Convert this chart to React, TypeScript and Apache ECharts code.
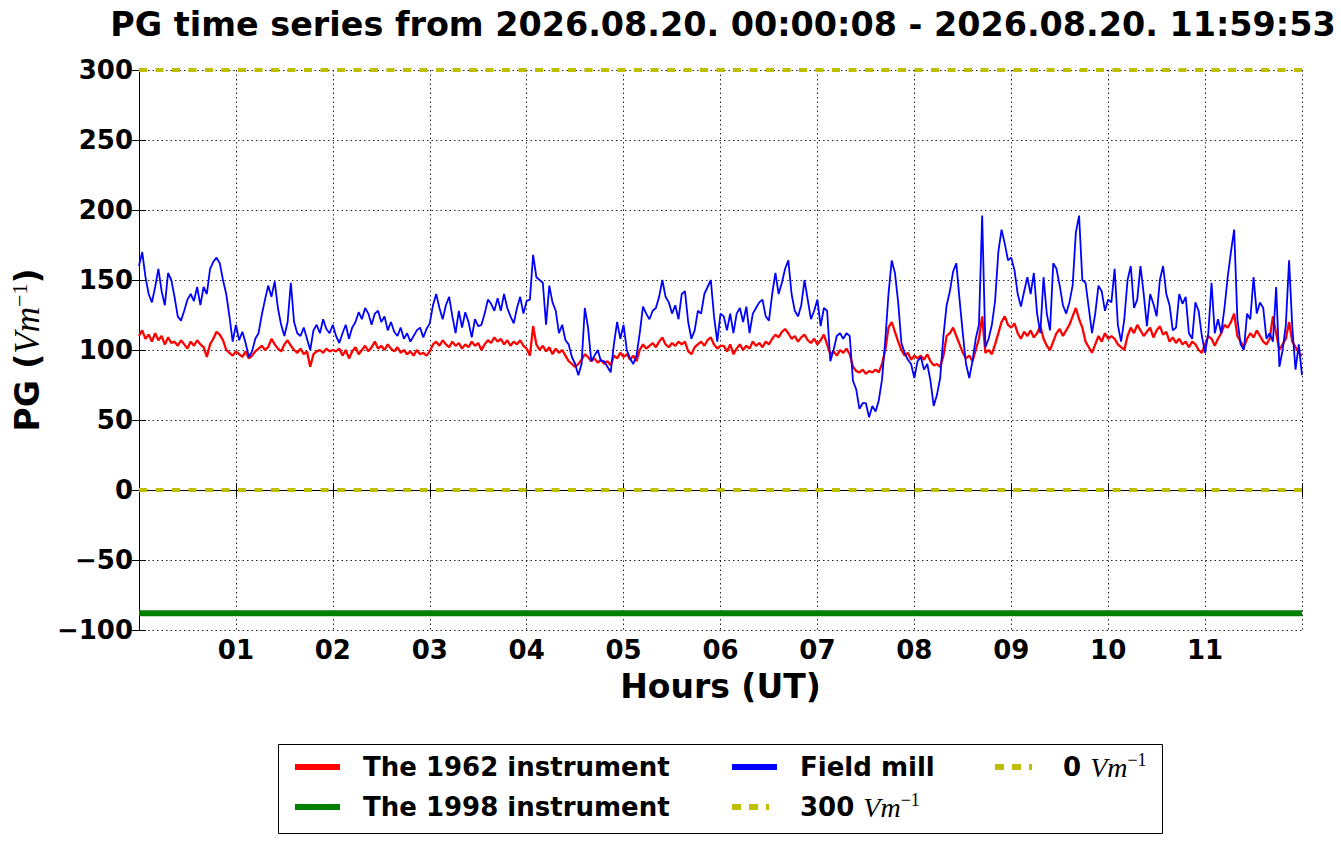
import React, { useEffect, useRef } from "react";
import * as echarts from "echarts";

const TITLE = "PG time series from 2026.08.20. 00:00:08 - 2026.08.20. 11:59:53";
const SAMPLE_MINUTES = 2;
const X_MAX_MINUTES = 720;
const hourTickLabels = ["01", "02", "03", "04", "05", "06", "07", "08", "09", "10", "11"];
const yTicks = { min: -100, max: 300, step: 50 };

// The 1962 instrument (red), every 2 minutes from 00:00
const instrument1962 = [
  110, 114, 108, 111, 106, 112, 107, 110, 104, 109, 105, 106, 103, 107, 104, 101, 106, 103, 107, 104,
  102, 95, 104, 108, 113, 111, 107, 100, 98, 96, 99, 97, 95, 99, 94, 96, 99, 101, 103, 100,
  102, 108, 104, 101, 99, 104, 107, 103, 100, 98, 101, 97, 99, 88, 97, 99, 100, 98, 101, 99,
  100,
  99, 101, 96, 100, 94, 99, 102, 97, 100, 103, 99, 102, 106, 101, 103, 100, 104, 101, 99, 102,
  98, 100, 97, 99, 96, 100, 97, 98, 96, 99, 104, 106, 103, 107, 104, 102, 106, 103, 105, 101,
  104, 102, 106, 103, 105, 100, 104, 107, 105, 109, 106, 108, 104, 107, 103, 106, 104, 107, 103, 101,
  96, 117, 104, 100, 103, 99, 102, 97, 101, 98, 100, 96, 92, 90, 88, 90, 93, 97, 95, 92,
  94, 91, 93, 90, 92, 89, 96, 94, 98, 95, 97, 93, 96, 92, 100, 104, 101, 103, 105, 102,
  106, 109, 104, 102, 105, 103, 106, 104, 106, 99, 97, 102, 104, 106, 103, 107, 109, 104, 101, 103,
  103, 99, 104, 97, 101, 104, 100, 103, 101, 106, 103, 105, 102, 106, 104, 108, 111, 109, 113, 115,
  112, 108, 110, 106, 109, 111, 107, 105, 108, 104, 107, 111, 104, 97, 99, 96, 100, 98, 101, 97,
  88, 85, 84, 86, 83, 85, 84, 86, 84, 90, 100, 116, 120, 113, 106, 100, 96, 98, 93, 96,
  94,
  96, 93, 97, 92, 89, 90, 88, 96, 110, 112, 116, 110, 104, 98, 94, 96, 92, 100, 108, 124,
  98, 100, 97, 104, 112, 120, 124, 118, 116, 119, 112, 108, 113, 110, 114, 109, 112, 117, 108, 103,
  100, 106, 112, 115, 110, 114, 118, 124, 130, 122, 116, 106, 102, 98, 104, 110, 106, 112, 108, 110,
  108, 104, 102, 100, 110, 116, 112, 118, 114, 110, 113, 116, 109, 114, 117, 111, 113, 106, 109, 105,
  108, 104, 106, 102, 106, 104, 100, 98, 104, 110, 108, 103, 108, 112, 118, 116, 120, 126, 110, 106,
  102, 108, 112, 109, 114, 110, 106, 104, 108, 124, 112, 100, 104, 108, 120, 106, 102, 98, 96,
];

// Field mill (blue), every 2 minutes from 00:00
const fieldMill = [
  160, 170, 152, 140, 134, 145, 158, 142, 132, 155, 150, 138, 124, 121, 128, 136, 140, 135, 145, 132,
  145, 140, 158, 163, 166, 162, 150, 140, 124, 106, 118, 107, 113, 105, 95, 99, 108, 112, 125, 136,
  146, 138, 149, 130, 118, 110, 120, 148, 120, 112, 110, 116, 108, 100, 114, 118, 112, 122, 115, 112,
  118,
  110, 105, 112, 118, 108, 116, 120, 127, 122, 130, 126, 118, 126, 128, 120, 124, 114, 120, 113, 110,
  116, 108, 112, 106, 110, 114, 116, 109, 115, 119, 132, 140, 130, 122, 132, 138, 124, 112, 128, 116,
  127, 120, 109, 122, 117, 118, 126, 136, 133, 128, 137, 128, 140, 130, 124, 119, 130, 138, 126, 135,
  136, 168, 152, 150, 148, 118, 146, 134, 128, 112, 118, 107, 104, 95, 90, 82, 90, 130, 116, 92,
  96, 100, 92, 92, 88, 84, 104, 120, 108, 118, 100, 94, 90, 96, 112, 131, 126, 122, 128, 130,
  138, 150, 138, 134, 126, 132, 122, 140, 142, 120, 108, 114, 128, 126, 140, 145, 150, 124, 106, 126,
  124, 114, 126, 112, 126, 130, 120, 131, 112, 126, 130, 134, 136, 124, 121, 140, 155, 140, 148, 158,
  164, 140, 128, 124, 132, 150, 136, 122, 128, 136, 117, 130, 128, 92, 100, 110, 112, 108, 112, 110,
  78, 72, 58, 62, 62, 52, 60, 56, 64, 79, 107, 140, 164, 155, 134, 105, 98, 93, 90, 80,
  92,
  95, 86, 90, 78, 60, 68, 80, 110, 132, 142, 156, 162, 136, 112, 90, 80, 92, 108, 118, 196,
  102, 108, 118, 135, 170, 186, 176, 164, 166, 157, 140, 131, 142, 152, 140, 155, 126, 112, 152, 126,
  114, 162, 158, 146, 132, 126, 134, 146, 184, 196, 150, 148, 130, 112, 126, 146, 142, 128, 136, 134,
  158, 118, 106, 122, 150, 160, 130, 136, 160, 140, 117, 140, 133, 124, 150, 160, 140, 132, 114, 116,
  140, 133, 138, 112, 108, 134, 128, 110, 98, 112, 148, 112, 122, 112, 130, 152, 170, 186, 122, 104,
  100, 126, 122, 152, 126, 134, 130, 108, 112, 106, 145, 88, 100, 118, 164, 116, 86, 104, 82,
];

// Constant levels
const instrument1998Level = -88;
const referenceLow = 0;
const referenceHigh = 300;

const NAME_1962 = "The 1962 instrument";
const NAME_1998 = "The 1998 instrument";
const NAME_MILL = "Field mill";
const NAME_300 = "300";
const NAME_0 = "0";

const FONT = "DejaVu Sans";
const MATH_FONT = "Liberation Serif";
const YELLOW = "#bfbf00";
const DOTS_ICON = "path://M0 0H9V7H0Z M17 0H26V7H17Z M34 0H37V7H34Z M44.95 3.45H45V3.5H44.95Z";

const toPairs = (arr: number[]) => arr.map((v, i) => [i * SAMPLE_MINUTES, v]);
const flat = (v: number) => [[0, v], [X_MAX_MINUTES, v]];

const richMath = (size: number) => ({
  b: { fontFamily: FONT, fontWeight: "bold", fontSize: size, lineHeight: size + 6, color: "#000" },
  i: { fontFamily: MATH_FONT, fontStyle: "italic", fontWeight: "normal", fontSize: size + 2, lineHeight: size + 6, color: "#000" },
  s: { fontFamily: MATH_FONT, fontWeight: "normal", fontSize: Math.round(size * 0.68), lineHeight: Math.round(size * 0.68), verticalAlign: "top", color: "#000" },
});

export default function App() {
  const ref = useRef<HTMLDivElement>(null);
  useEffect(() => {
    if (!ref.current) return;
    const chart = echarts.init(ref.current, null, { renderer: "svg" });
    const legendText = {
      fontFamily: FONT,
      fontWeight: "bold" as const,
      fontSize: 26,
      color: "#000",
      lineHeight: 32,
      padding: [0, 0, 0, 18],
      rich: richMath(26),
    };
    const legendFormatter = (name: string) => {
      if (name === NAME_300 || name === NAME_0) return `{b|${name} }{i|Vm}{s|\u22121}`;
      return `{b|${name}}`;
    };
    const legendCommon = {
      orient: "vertical" as const,
      top: 751,
      itemWidth: 45,
      itemHeight: 6,
      itemGap: 8,
      symbolKeepAspect: false,
      selectedMode: false,
      formatter: legendFormatter,
      textStyle: legendText,
      padding: 0,
    };
    const axisLabelStyle = { fontFamily: FONT, fontWeight: "bold" as const, fontSize: 26, color: "#000" };
    const gridLine = { show: true, lineStyle: { color: "#222", width: 1, type: [1.5, 3] as number[] } };
    const frame = { show: true, lineStyle: { color: "#000", width: 1 } };
    const tick = { show: true, inside: true, length: 7, lineStyle: { color: "#000", width: 1 } };

    chart.setOption({
      animation: false,
      backgroundColor: "#fff",
      title: {
        text: TITLE,
        left: 718,
        top: 3,
        textAlign: "center",
        textStyle: { fontFamily: FONT, fontWeight: "bold", fontSize: 33.4, color: "#000" },
      },
      grid: { left: 139, right: 39, top: 70, bottom: 214, containLabel: false },
      xAxis: [
        {
          type: "value",
          min: 0,
          max: X_MAX_MINUTES,
          interval: 60,
          position: "bottom",
          axisLine: frame,
          axisTick: tick,
          splitLine: gridLine,
          axisLabel: {
            ...axisLabelStyle,
            margin: 7,
            formatter: (v: number) => hourTickLabels[v / 60 - 1] ?? "",
          },
          name: "Hours (UT)",
          nameLocation: "middle",
          nameGap: 40,
          nameTextStyle: { fontFamily: FONT, fontWeight: "bold", fontSize: 33, color: "#000" },
        },
        {
          type: "value",
          min: 0,
          max: X_MAX_MINUTES,
          interval: 60,
          position: "top",
          axisLine: frame,
          axisTick: tick,
          splitLine: { show: false },
          axisLabel: { show: false },
        },
      ],
      yAxis: [
        {
          type: "value",
          min: yTicks.min,
          max: yTicks.max,
          interval: yTicks.step,
          position: "left",
          axisLine: frame,
          axisTick: tick,
          splitLine: gridLine,
          axisLabel: {
            ...axisLabelStyle,
            margin: 6,
            formatter: (v: number) => (v < 0 ? "\u2212" + Math.abs(v) : String(v)),
          },
          name: "{b|PG (}{i|Vm}{s|\u22121}{b|)}",
          nameLocation: "middle",
          nameRotate: 90,
          nameGap: 92,
          nameTextStyle: { rich: richMath(33) },
        },
        {
          type: "value",
          min: yTicks.min,
          max: yTicks.max,
          interval: yTicks.step,
          position: "right",
          axisLine: frame,
          axisTick: tick,
          splitLine: { show: false },
          axisLabel: { show: false },
        },
      ],
      legend: [
        { ...legendCommon, left: 295, data: [{ name: NAME_1962, icon: "rect" }, { name: NAME_1998, icon: "rect" }] },
        { ...legendCommon, left: 732, data: [{ name: NAME_MILL, icon: "rect" }, { name: NAME_300, icon: DOTS_ICON }] },
        { ...legendCommon, left: 995, data: [{ name: NAME_0, icon: DOTS_ICON }] },
      ],
      graphic: [
        {
          type: "rect",
          z: 0,
          shape: { x: 278.5, y: 744.5, width: 884, height: 89 },
          style: { fill: "none", stroke: "#000", lineWidth: 1 },
        },
      ],
      series: [
        {
          name: NAME_1962,
          type: "line",
          data: toPairs(instrument1962),
          showSymbol: false,
          color: "#ff0000",
          lineStyle: { color: "#ff0000", width: 2.3 },
        },
        {
          name: NAME_1998,
          type: "line",
          data: flat(instrument1998Level),
          showSymbol: false,
          color: "#008000",
          lineStyle: { color: "#008000", width: 6 },
        },
        {
          name: NAME_MILL,
          type: "line",
          data: toPairs(fieldMill),
          showSymbol: false,
          color: "#0000ff",
          lineStyle: { color: "#0000ff", width: 1.8 },
        },
        {
          name: NAME_300,
          type: "line",
          data: flat(referenceHigh),
          showSymbol: false,
          color: YELLOW,
          lineStyle: { color: YELLOW, width: 4, type: [8, 8.5], cap: "butt" },
        },
        {
          name: NAME_0,
          type: "line",
          data: flat(referenceLow),
          showSymbol: false,
          color: YELLOW,
          lineStyle: { color: YELLOW, width: 4, type: [8, 8.5], cap: "butt" },
        },
      ],
    });
    return () => chart.dispose();
  }, []);
  return (
    <div
      ref={ref}
      style={{ position: "absolute", left: 0, top: 0, width: 1341, height: 844, background: "#fff" }}
    />
  );
}
